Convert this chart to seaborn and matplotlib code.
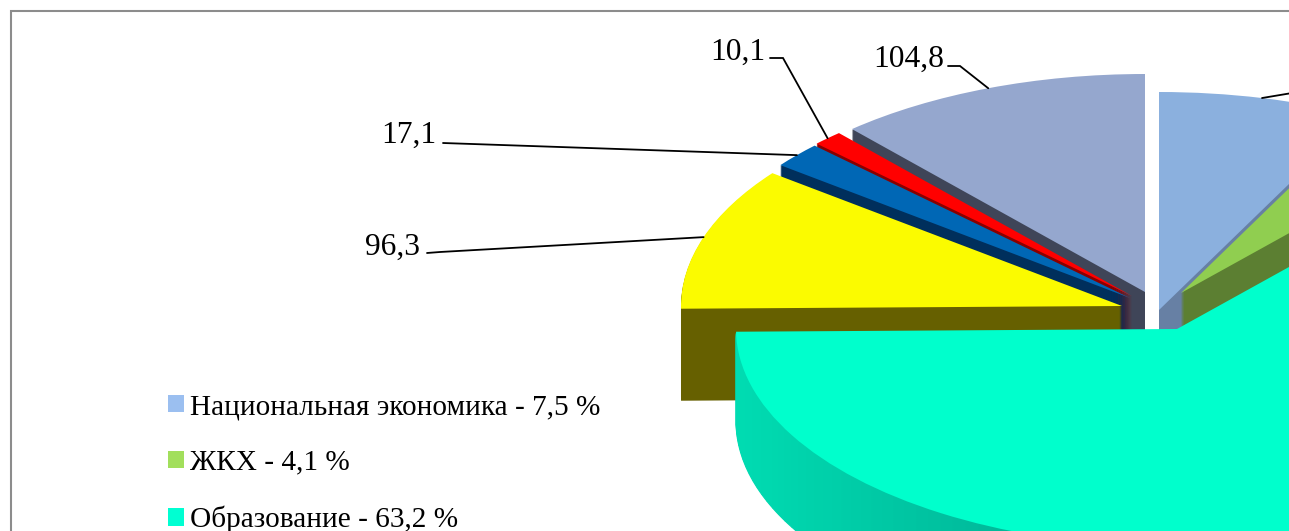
import numpy as np
import matplotlib
matplotlib.use("Agg")
import matplotlib.pyplot as plt
from matplotlib.patches import Patch
from matplotlib.colors import to_rgb
import seaborn as sns

# ---- data -------------------------------------------------------------
categories = ["Национальная экономика", "ЖКХ", "Образование",
              "Сектор 4", "Сектор 5", "Сектор 6", "Сектор 7"]
values = [68.0, 37.1, 572.6, 96.3, 17.1, 10.1, 104.8]
legend_labels = ["Национальная экономика - 7,5 %", "ЖКХ - 4,1 %", "Образование - 63,2 %"]
data_labels = ["", "", "", "96,3", "17,1", "10,1", "104,8"]

# ---- style ------------------------------------------------------------
W, H = 1289, 531
RX, RY, DEPTH = 441.0, 218.0, 92
top_cols = ["#8BB0DE", "#90CE50", "#00FFCC", "#FBFB00", "#0067B5", "#FF0000", "#95A7CE"]
side_cols = ["#6780A4", "#5C7F32", "#00DCB2", "#666000", "#002F5C", "#8A0000", "#3F4558"]
legend_cols = ["#9BBFF0", "#A2DF5C", "#00FFD2"]
apex = [(1159, 310), (1181, 293), (1177, 329), (1122, 306), (1130, 298), (1132, 296), (1145, 292)]
draw_order = [6, 5, 4, 3, 0, 1, 2]
# label text anchor (right end, centre y) and leader elbow in pixels
label_pos = {3: (420, 247), 4: (436, 135), 5: (765, 52), 6: (944, 59)}
elbow = {0: (1310, 90), 3: (440, 252), 4: (443, 143), 5: (783, 58), 6: (960, 66)}
elbow_start = {3: (427, 253), 5: (770, 58), 6: (948, 66)}

sns.set_theme(style="white")
plt.rcParams["font.family"] = ["Liberation Serif", "DejaVu Serif"]

fig = plt.figure(figsize=(W / 100, H / 100), dpi=100, facecolor="white")
ax = fig.add_axes([0, 0, 1, 1])


def p(x, y):
    return x / RX, -y / RY


total = sum(values)
fracs = np.array(values) / total
starts = np.concatenate([[0], np.cumsum(fracs)[:-1]])
TEAL_STEPS = 120

for i in draw_order:
    cx, cy = apex[i]
    start_ang = 90 - starts[i] * 360
    rest = total - values[i]
    if i == 2:
        parts = [values[i] / TEAL_STEPS] * TEAL_STEPS + [rest]
        mids = starts[i] + (np.arange(TEAL_STEPS) + 0.5) / TEAL_STEPS * fracs[i]
        dark = np.array(to_rgb("#00B094"))
        light = np.array(to_rgb(side_cols[i]))
        grad = []
        for m in mids:
            t = np.clip((RX * np.sin(2 * np.pi * m) + RX) / (0.75 * RX), 0, 1)
            grad.append(tuple(light + (dark - light) * t))
        for d in range(DEPTH, 0, -2):
            wedges, _ = ax.pie(parts, startangle=start_ang, counterclock=False,
                               center=p(cx, cy + d), radius=1, colors=grad + ["none"],
                               wedgeprops=dict(linewidth=0), normalize=True)
            for w, c in zip(wedges, grad):
                w.set_edgecolor(c)
                w.set_linewidth(0.8)
    else:
        for d in range(DEPTH, 0, -1):
            ax.pie([values[i], rest], startangle=start_ang, counterclock=False,
                   center=p(cx, cy + d), radius=1, colors=[side_cols[i], "none"],
                   wedgeprops=dict(linewidth=0), normalize=True)
    ax.pie([values[i], rest], startangle=start_ang, counterclock=False,
           center=p(cx, cy), radius=1, colors=[top_cols[i], "none"],
           wedgeprops=dict(linewidth=0), normalize=True)

# leaders and data labels
for i in elbow:
    mid = starts[i] + fracs[i] / 2
    ang = 2 * np.pi * mid
    ax0 = apex[i][0] + RX * np.sin(ang)
    ay0 = apex[i][1] - RY * np.cos(ang)
    xs, ys = [ax0], [ay0]
    ex, ey = elbow[i]
    xs.append(ex); ys.append(ey)
    if i in elbow_start:
        xs.append(elbow_start[i][0]); ys.append(elbow_start[i][1])
    dx, dy = p(np.array(xs), np.array(ys))
    ax.plot(dx, dy, color="black", lw=1.3, solid_joinstyle="miter", zorder=20)
for i, (tx, ty) in label_pos.items():
    ax.text(*p(tx, ty), data_labels[i], ha="right", va="center", fontsize=22.7,
            color="black", zorder=21)

# chart frame
fx, fy = p(np.array([11, 11, W + 10]), np.array([H + 10, 11, 11]))
ax.plot(fx, fy, color="#8C8C8C", lw=1.5, zorder=30, solid_joinstyle="miter")

handles = [Patch(facecolor=c, edgecolor="none") for c in legend_cols]
leg = ax.legend(handles, legend_labels, loc="upper left",
                bbox_to_anchor=(168 / W, 1 - 394 / H), bbox_transform=fig.transFigure,
                frameon=False, fontsize=21.05, labelcolor="black",
                handlelength=0.55, handleheight=0.55, handletextpad=0.21,
                labelspacing=1.02, borderpad=0, borderaxespad=0)

ax.set_aspect("auto")
ax.set_xlim(0, W / RX)
ax.set_ylim(-H / RY, 0)
ax.set_axis_off()
ax.set_position([0, 0, 1, 1])
fig.savefig("out.png", dpi=100, facecolor="white")
